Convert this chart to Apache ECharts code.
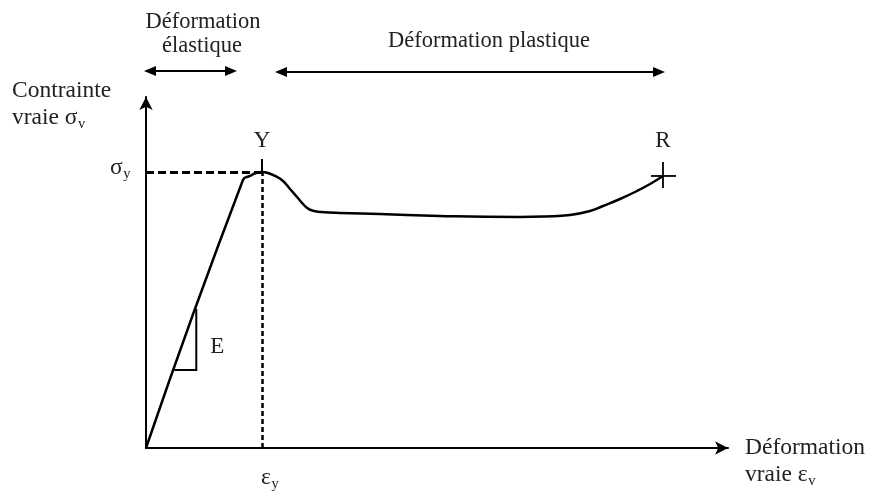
<!DOCTYPE html>
<html><head><meta charset="utf-8">
<script src="https://cdn.jsdelivr.net/npm/echarts@6/dist/echarts.min.js"></script>
<style>html,body{margin:0;padding:0;background:#fff}#c{width:876px;height:497px}</style>
</head><body><div id="c"></div>
<script>
// True strain (normalized, % of axis length)
const strain = [0, 16.66, 17.87, 18.90, 19.93, 20.96, 22.17, 23.54, 24.74, 25.95, 26.98, 27.84, 28.70, 30.07, 33.33, 40.21, 50.52, 64.26, 68.56, 72.85, 76.29, 78.52, 81.44, 84.37, 86.60, 88.83];
// True stress (normalized)
const stress = [0, 76.35, 77.50, 78.35, 78.64, 78.35, 77.50, 76.07, 73.79, 71.51, 69.52, 68.20, 67.60, 67.24, 66.95, 66.66, 66.09, 65.81, 65.96, 66.38, 67.53, 68.95, 70.94, 73.22, 75.21, 77.50];
const yieldIndex = 4;      // point Y
const ruptureIndex = strain.length - 1; // point R
const slopeStress = [22.22, 39.60]; // E triangle stress levels
const texts = {
  elastic: ['Déformation', 'élastique'],
  plastic: 'Déformation plastique',
  yName: ['Contrainte', 'vraie σ', 'v'],
  xName: ['Déformation', 'vraie ε', 'v'],
  yieldStress: ['σ', 'y'],
  yieldStrain: ['ε', 'y'],
  Y: 'Y', R: 'R', E: 'E'
};

const FONT = '"Liberation Serif", "DejaVu Serif", serif';
const TXT = '#222';
const chart = echarts.init(document.getElementById('c'), null, {renderer: 'canvas'});
const xY = strain[yieldIndex], yY = stress[yieldIndex];
const xR = strain[ruptureIndex], yR = stress[ruptureIndex];

chart.setOption({
  animation: false,
  grid: {left: 146, right: 148, top: 97, bottom: 49},
  xAxis: {type: 'value', min: 0, max: 100,
    axisLine: {show: true, onZero: false, symbol: ['none', 'arrow'], symbolSize: [10, 13], lineStyle: {color: '#000', width: 2}},
    axisTick: {show: false}, axisLabel: {show: false}, splitLine: {show: false}},
  yAxis: {type: 'value', min: 0, max: 100,
    axisLine: {show: true, onZero: false, symbol: ['none', 'arrow'], symbolSize: [10, 13], lineStyle: {color: '#000', width: 2}},
    axisTick: {show: false}, axisLabel: {show: false}, splitLine: {show: false}},
  series: [{
    type: 'line',
    data: strain.map((x, i) => [x, stress[i]]),
    smooth: 0.5,
    showSymbol: false,
    lineStyle: {color: '#000', width: 2.5},
    silent: true,
    markLine: {
      silent: true, symbol: 'none', label: {show: false},
      lineStyle: {color: '#000', width: 2.5, type: [5, 3]},
      emphasis: {disabled: true},
      data: [
        [{coord: [0, yY], lineStyle: {color: '#000', width: 3, type: [8, 4]}}, {coord: [xY, yY]}],
        [{coord: [xY, 0]}, {coord: [xY, yY]}]
      ]
    }
  }]
});

const P = (x, y) => chart.convertToPixel({gridIndex: 0}, [x, y]);
const o = P(0, 0), pY = P(xY, yY), pR = P(xR, yR);
const k = strain[1] / stress[1];
const t1 = P(k * slopeStress[0], slopeStress[0]);
const t2 = P(k * slopeStress[1], slopeStress[0]);
const t3 = P(k * slopeStress[1], slopeStress[1]);

const ctx = document.createElement('canvas').getContext('2d');
function tw(s, size) { ctx.font = size + 'px ' + FONT; return ctx.measureText(s).width; }

const G = [];
function text(s, x, y, size, align) {
  G.push({type: 'text', silent: true, style: {text: s, x: x, y: y, fill: TXT,
    font: size + 'px ' + FONT, textAlign: align || 'center', textVerticalAlign: 'middle'}});
}
function line(x1, y1, x2, y2, w) {
  G.push({type: 'line', silent: true, shape: {x1, y1, x2, y2}, style: {stroke: '#000', lineWidth: w || 2}});
}
function dblArrow(x1, x2, y) {
  line(x1 + 8, y, x2 - 8, y, 2.2);
  G.push({type: 'polygon', silent: true, shape: {points: [[x1, y], [x1 + 12, y - 5], [x1 + 12, y + 5]]}, style: {fill: '#000'}});
  G.push({type: 'polygon', silent: true, shape: {points: [[x2, y], [x2 - 12, y - 5], [x2 - 12, y + 5]]}, style: {fill: '#000'}});
}
function sub(main, s, x, y, size, align) {
  const w1 = tw(main, size), w2 = tw(s, size * 0.62);
  let left = x;
  if (align === 'center') left = x - w1 / 2;
  if (align === 'right') left = x - w1 - w2;
  text(main, left, y, size, 'left');
  text(s, left + w1 + 0.5, y + 6, size * 0.62, 'left');
}

// crosses
line(pY[0], pY[1] - 13, pY[0], pY[1], 2);
line(pR[0] - 12, pR[1], pR[0] + 13, pR[1], 1.8);
line(pR[0], pR[1] - 14, pR[0], pR[1] + 12, 1.8);
// slope triangle
G.push({type: 'polyline', silent: true, shape: {points: [t1, t2, t3]}, style: {stroke: '#000', lineWidth: 2, fill: null}});
text(texts.E, t2[0] + 21, (t2[1] + t3[1]) / 2 + 7, 23);
// top arrows
dblArrow(o[0] - 2, pY[0] - 25, 71);
dblArrow(pY[0] + 13, pR[0] + 2, 72);
text(texts.elastic[0], 203, 22, 22.5);
text(texts.elastic[1], 202, 46, 22.5);
text(texts.plastic, 489, 41, 22.5);
// point labels
text(texts.Y, pY[0], pY[1] - 31, 23);
text(texts.R, pR[0], pR[1] - 35, 23);
// axis names
text(texts.yName[0], 12, 91, 23.5, 'left');
sub(texts.yName[1], texts.yName[2], 12, 118, 23.5, 'left');
text(texts.xName[0], 745, 448, 23.5, 'left');
sub(texts.xName[1], texts.xName[2], 745, 475, 23.5, 'left');
sub(texts.yieldStress[0], texts.yieldStress[1], 130, pY[1] - 4, 23.5, 'right');
sub(texts.yieldStrain[0], texts.yieldStrain[1], pY[0] + 4, 478, 23.5, 'center');

chart.setOption({graphic: {elements: G}});
</script></body></html>
